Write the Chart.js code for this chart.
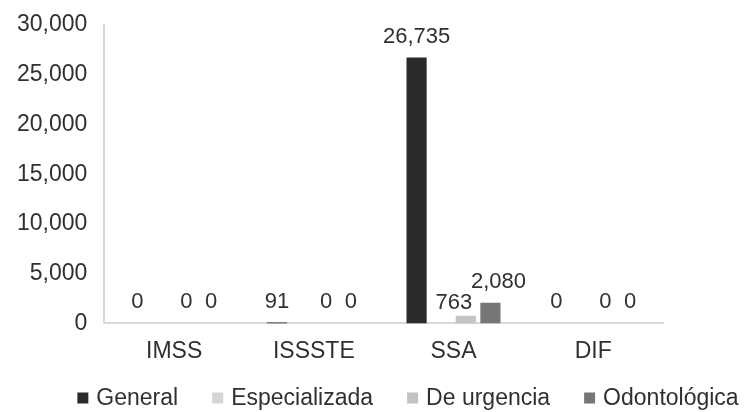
<!DOCTYPE html>
<html><head><meta charset="utf-8">
<script src="https://cdn.jsdelivr.net/npm/chart.js@4"></script>
<style>html,body{margin:0;padding:0;background:#fff}#wrap{width:753px;height:412px;position:relative}</style>
</head><body><div id="wrap"><canvas id="c" width="753" height="412"></canvas></div>
<script>
// ---- data ----
const categories = ['IMSS', 'ISSSTE', 'SSA', 'DIF'];
const seriesNames = ['General', 'Especializada', 'De urgencia', 'Odontológica'];
const generalValues = [0, 91, 26735, 0];
const especializadaValues = [null, null, null, null];
const urgenciaValues = [0, 0, 763, 0];
const odontologicaValues = [0, 0, 2080, 0];
const yTicks = [0, 5000, 10000, 15000, 20000, 25000, 30000];

// ---- style ----
const seriesColors = ['#2b2b2b', '#d6d6d6', '#c2c2c8', '#767676'];
const FONT = "'Liberation Sans', Arial, sans-serif";
const TEXT = '#303030';
const fmt = v => Number(v).toLocaleString('en-US');
// small nudges for individual data labels (as placed in the original)
const labelNudge = { 'SSA|De urgencia': [-12, 8], 'SSA|Odontológica': [8, 0] };

Chart.defaults.font.family = FONT;
Chart.defaults.font.size = 23;
Chart.defaults.color = TEXT;

const seriesValues = [generalValues, especializadaValues, urgenciaValues, odontologicaValues];

const dataLabels = {
  id: 'dataLabels',
  afterDatasetsDraw(chart) {
    const ctx = chart.ctx;
    ctx.save();
    ctx.font = '22px ' + FONT;
    ctx.fillStyle = TEXT;
    ctx.textAlign = 'center';
    ctx.textBaseline = 'middle';
    chart.data.datasets.forEach((ds, di) => {
      const meta = chart.getDatasetMeta(di);
      ds.data.forEach((v, i) => {
        if (v === null || v === undefined) return;
        const el = meta.data[i];
        const n = labelNudge[categories[i] + '|' + ds.label] || [0, 0];
        ctx.fillText(fmt(v), el.x + n[0], el.y - 21 + n[1]);
      });
    });
    ctx.restore();
  }
};

const customLegend = {
  id: 'customLegend',
  afterDraw(chart) {
    const ctx = chart.ctx;
    ctx.save();
    ctx.font = '23px ' + FONT;
    ctx.textBaseline = 'middle';
    const box = 11, boxGap = 8, itemGap = 34;
    const widths = chart.data.datasets.map(d => box + boxGap + ctx.measureText(d.label).width);
    const total = widths.reduce((a, b) => a + b, 0) + itemGap * (widths.length - 1);
    let x = 408 - total / 2;
    const y = 398;
    chart.data.datasets.forEach((d, i) => {
      ctx.fillStyle = d.backgroundColor;
      ctx.fillRect(x, y - box / 2, box, box);
      ctx.fillStyle = TEXT;
      ctx.textAlign = 'left';
      ctx.fillText(d.label, x + box + boxGap, y + 1);
      x += widths[i] + itemGap;
    });
    ctx.restore();
  }
};

new Chart(document.getElementById('c'), {
  type: 'bar',
  data: {
    labels: categories,
    datasets: seriesNames.map((name, k) => ({
      label: name,
      data: seriesValues[k],
      backgroundColor: seriesColors[k],
      borderWidth: 0,
      categoryPercentage: 0.705,
      barPercentage: 0.82
    }))
  },
  options: {
    responsive: false,
    animation: false,
    layout: { padding: { top: 0, left: 0, right: 90, bottom: 33 } },
    plugins: { legend: { display: false }, tooltip: { enabled: false } },
    scales: {
      x: {
        grid: { display: false, drawTicks: false },
        border: { display: true, color: '#d9d9d9', width: 2 },
        ticks: { padding: 14, color: TEXT, font: { size: 23 } }
      },
      y: {
        min: 0, max: 30000,
        afterBuildTicks(scale) { scale.ticks = yTicks.map(v => ({ value: v })); },
        afterFit(scale) { scale.paddingTop = 25; },
        grid: { display: false, drawTicks: false },
        border: { display: true, color: '#d9d9d9', width: 2 },
        ticks: { padding: 17, color: TEXT, font: { size: 23 }, callback: v => fmt(v) }
      }
    }
  },
  plugins: [dataLabels, customLegend]
});
</script></body></html>
